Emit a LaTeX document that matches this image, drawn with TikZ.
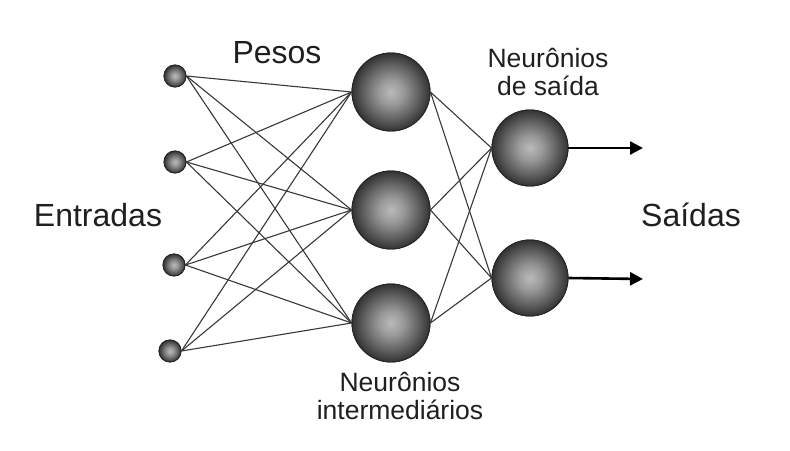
\documentclass[tikz,border=0pt]{standalone}
\usepackage{fontspec}
\setmainfont{Liberation Sans}
\usetikzlibrary{arrows.meta}
\pgfdeclareradialshading{neuronball}{\pgfpoint{0bp}{0bp}}{%
  color(0bp)=(black!27);
  color(8bp)=(black!40);
  color(18bp)=(black!63);
  color(25bp)=(black!80);
  color(50bp)=(black!80)}
\begin{document}
\begin{tikzpicture}[x=1pt,y=-1pt,
  inp/.style={circle,draw=black!85,line width=0.9pt,shading=neuronball,minimum size=22pt,inner sep=0pt},
  big/.style={circle,draw=black!85,line width=0.9pt,shading=neuronball,minimum size=78pt,inner sep=0pt},
  wire/.style={draw=black!78,line width=1.1pt},
  outarrow/.style={draw=black,line width=2.6pt,-{Triangle[length=13pt,width=13pt]}},
  lbl/.style={text=black!88,font=\fontsize{32}{34}\selectfont,inner sep=0pt},
  small/.style={text=black!88,font=\fontsize{26.5}{28}\selectfont,inner sep=0pt,align=center}]
\useasboundingbox (0,0) rectangle (790,450);
% input nodes
\node[inp] (i1) at (175,76) {};
\node[inp] (i2) at (175,162) {};
\node[inp] (i3) at (174,265) {};
\node[inp] (i4) at (170,351) {};
% hidden nodes
\node[big] (h1) at (391,92) {};
\node[big] (h2) at (391,210) {};
\node[big] (h3) at (391,323) {};
% output nodes
\node[big,minimum size=76pt] (o1) at (530,148) {};
\node[big,minimum size=76pt] (o2) at (530,278) {};
% wires
\foreach \a in {i1,i2,i3,i4}{
  \foreach \b in {h1,h2,h3}{
    \draw[wire] (\a.east) -- (\b.west);
  }
}
\foreach \a in {h1,h2,h3}{
  \foreach \b in {o1,o2}{
    \draw[wire] (\a.east) -- (\b.west);
  }
}
% redraw nodes on top of the wires
\node[inp] at (i1) {};
\node[inp] at (i2) {};
\node[inp] at (i3) {};
\node[inp] at (i4) {};
\node[big] at (h1) {};
\node[big] at (h2) {};
\node[big] at (h3) {};
\node[big,minimum size=76pt] at (o1) {};
\node[big,minimum size=76pt] at (o2) {};
% outputs
\coordinate (e1) at (643,148);
\coordinate (e2) at (643,279);
\draw[outarrow] (o1.east) -- (e1);
\draw[outarrow] (o2.east) -- (e2);
% labels
\node[lbl] (pesos) at (277,53) {Pesos};
\node[lbl] (entr) at (98,215) {Entradas};
\begin{scope}
\clip (0,0) rectangle (740,450);
\node[lbl,anchor=west] (said) at (641,215) {Saídas};
\end{scope}
\node[small] (ns) at (548,72) {Neurônios\\de saída};
\node[small] (ni) at (400,396) {Neurônios\\intermediários};
\end{tikzpicture}
\end{document}
